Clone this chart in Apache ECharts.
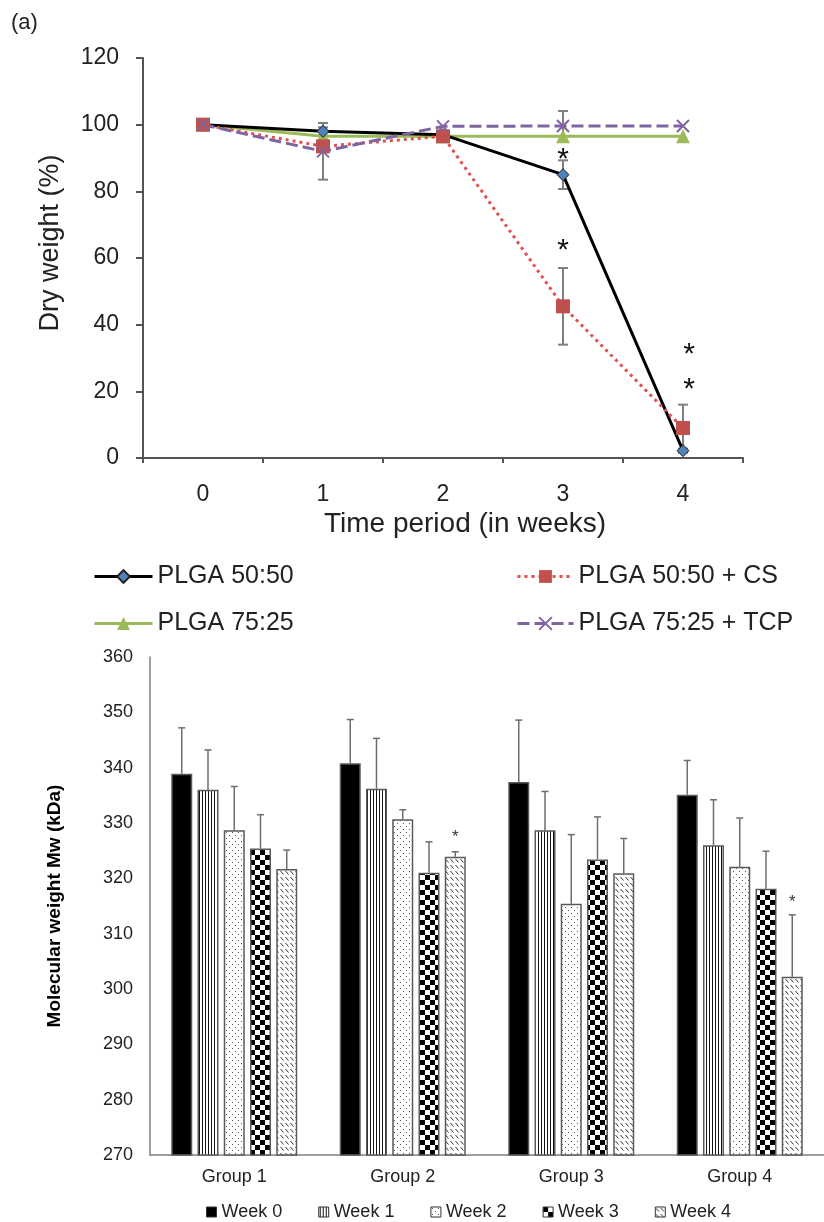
<!DOCTYPE html>
<html>
<head>
<meta charset="utf-8">
<script src="https://cdn.jsdelivr.net/npm/echarts@6/dist/echarts.min.js"></script>
<style>
html,body{margin:0;padding:0;background:#fff;}
#c{width:824px;height:1222px;}
</style>
</head>
<body>
<div id="c"></div>
<script>
// ---------- Data: panel (a) dry weight ----------
const weeks = ['0', '1', '2', '3', '4'];
const lineNames = ['PLGA 50:50', 'PLGA 50:50 + CS', 'PLGA 75:25', 'PLGA 75:25 + TCP'];
const plga5050 = [100, 98, 97, 85, 2.2];
const plga5050Err = [0, 1.2, 0.8, 4.3, 0.6];
const plga5050cs = [100, 93.5, 96.5, 45.5, 9];
const plga5050csErr = [0, 0, 0, 11.5, 7];
const plga7525 = [100, 96.5, 96.5, 96.5, 96.5];
const plga7525Err = [0, 0, 0, 0, 0];
const plga7525tcp = [100, 92, 99.5, 99.6, 99.6];
const plga7525tcpErr = [0, 8.5, 0, 4.5, 0];
const topStars = [[3, 91.9], [3, 64.5], [4, 33.4], [4, 22.9]];

// ---------- Data: molecular weight ----------
const groups = ['Group 1', 'Group 2', 'Group 3', 'Group 4'];
const weekNames = ['Week 0', 'Week 1', 'Week 2', 'Week 3', 'Week 4'];
const week0 = [338.9, 340.8, 337.4, 335.1];
const week0Err = [8.3, 7.9, 11.2, 6.2];
const week1 = [336.0, 336.2, 328.7, 326.0];
const week1Err = [7.2, 9.1, 7.0, 8.2];
const week2 = [328.7, 330.7, 315.4, 322.1];
const week2Err = [7.9, 1.7, 12.5, 8.8];
const week3 = [325.4, 321.0, 323.4, 318.1];
const week3Err = [6.1, 5.6, 7.7, 6.8];
const week4 = [321.7, 323.9, 320.9, 302.2];
const week4Err = [3.4, 0.9, 6.3, 11.2];
const bottomStars = [[1, 4, 328.2], [3, 4, 316.4]]; // [group, week, value]

// ---------- Styling helpers ----------
const FONT = "'Liberation Sans', Arial, sans-serif";

function makePattern(kind) {
  const c = document.createElement('canvas');
  let w = 4, h = 4;
  if (kind === 'vlines') { w = 3; h = 4; }
  if (kind === 'dots') { w = 6; h = 6; }
  if (kind === 'check') { w = 10; h = 10; }
  if (kind === 'diag') { w = 5; h = 6; }
  c.width = w; c.height = h;
  const ctx = c.getContext('2d');
  ctx.fillStyle = '#fff';
  ctx.fillRect(0, 0, w, h);
  if (kind === 'vlines') {
    ctx.fillStyle = '#111';
    ctx.fillRect(1, 0, 1, h);
  } else if (kind === 'dots') {
    ctx.fillStyle = '#555';
    ctx.fillRect(1, 1, 1, 1);
    ctx.fillRect(4, 4, 1, 1);
  } else if (kind === 'check') {
    ctx.fillStyle = '#000';
    ctx.fillRect(0, 0, 5, 5);
    ctx.fillRect(5, 5, 5, 5);
  } else if (kind === 'diag') {
    ctx.strokeStyle = '#333';
    ctx.lineWidth = 1;
    ctx.beginPath();
    ctx.moveTo(0.5, 1);
    ctx.lineTo(3.5, 4.5);
    ctx.stroke();
  }
  return { image: c, repeat: 'repeat' };
}

const weekFills = ['#000', makePattern('vlines'), makePattern('dots'), makePattern('check'), makePattern('diag')];
const weekVals = [week0, week1, week2, week3, week4];
const weekErrs = [week0Err, week1Err, week2Err, week3Err, week4Err];

const BAR_W = 21;
const BAR_STEP = 26.25;

// ---------- Series: top line chart ----------
const lineVals = [plga5050, plga5050cs, plga7525, plga7525tcp];
const lineErrs = [plga5050Err, plga5050csErr, plga7525Err, plga7525tcpErr];
const lineStyles = [
  { color: '#000', width: 3, type: 'solid' },
  { color: '#e0504d', width: 3, type: [3, 4] },
  { color: '#9bbb59', width: 3, type: 'solid' },
  { color: '#8064a2', width: 3, type: [12, 5] }
];
const symbols = [
  { symbol: 'diamond', size: 12, item: { color: '#4f81bd', borderColor: '#1f1f1f', borderWidth: 1 } },
  { symbol: 'rect', size: 14, item: { color: '#c0504d', borderColor: '#c0504d', borderWidth: 0 } },
  { symbol: 'triangle', size: 14, item: { color: '#9bbb59', borderColor: '#9bbb59', borderWidth: 0 } },
  { symbol: 'path://M0,0L10,10M10,0L0,10', size: 12, item: { color: 'rgba(0,0,0,0)', borderColor: '#8064a2', borderWidth: 2 } }
];

const series = [];

// error bars (top)
lineErrs.forEach((errs, si) => {
  series.push({
    type: 'custom', xAxisIndex: 0, yAxisIndex: 0, z: 1, silent: true,
    data: lineVals[si].map((v, i) => [i, v, errs[i]]).filter(d => d[2] > 0),
    renderItem: function (params, api) {
      const x = api.value(0), v = api.value(1), e = api.value(2);
      const hi = api.coord([x, v + e]);
      const lo = api.coord([x, v - e]);
      const st = { stroke: '#7f7f7f', lineWidth: 2 };
      return {
        type: 'group', children: [
          { type: 'line', shape: { x1: hi[0], y1: hi[1], x2: lo[0], y2: lo[1] }, style: st },
          { type: 'line', shape: { x1: hi[0] - 5, y1: hi[1], x2: hi[0] + 5, y2: hi[1] }, style: st },
          { type: 'line', shape: { x1: lo[0] - 5, y1: lo[1], x2: lo[0] + 5, y2: lo[1] }, style: st }
        ]
      };
    }
  });
});

// lines — draw order: green, black, red, purple
[2, 0, 1, 3].forEach(si => {
  series.push({
    name: lineNames[si], type: 'line', xAxisIndex: 0, yAxisIndex: 0, z: 3,
    data: lineVals[si],
    symbol: symbols[si].symbol, symbolSize: symbols[si].size,
    showAllSymbol: true,
    lineStyle: lineStyles[si],
    itemStyle: symbols[si].item
  });
});

// stars (top)
series.push({
  type: 'custom', xAxisIndex: 0, yAxisIndex: 0, z: 5, silent: true,
  data: topStars,
  renderItem: function (params, api) {
    const p = api.coord([api.value(0), api.value(1)]);
    const dx = api.value(0) === 4 ? 6 : 0;
    return {
      type: 'text',
      style: { text: '*', x: p[0] + dx, y: p[1] + 8, font: '30px ' + FONT, fill: '#111', textAlign: 'center', textVerticalAlign: 'middle' }
    };
  }
});

// bars (bottom)
weekVals.forEach((vals, k) => {
  series.push({
    name: weekNames[k], type: 'bar', xAxisIndex: 1, yAxisIndex: 1, z: 2,
    data: vals, barWidth: BAR_W, barGap: '25%',
    itemStyle: { color: weekFills[k], borderColor: '#5a5a5a', borderWidth: 1.5 }
  });
});

// error bars (bottom, upper only)
weekErrs.forEach((errs, k) => {
  series.push({
    type: 'custom', xAxisIndex: 1, yAxisIndex: 1, z: 1, silent: true,
    data: weekVals[k].map((v, i) => [i, v, errs[i]]),
    renderItem: function (params, api) {
      const x = api.value(0), v = api.value(1), e = api.value(2);
      const off = (k - 2) * BAR_STEP;
      const base = api.coord([x, v]);
      const hi = api.coord([x, v + e]);
      const st = { stroke: '#6e6e6e', lineWidth: 1.5 };
      return {
        type: 'group', children: [
          { type: 'line', shape: { x1: base[0] + off, y1: base[1], x2: hi[0] + off, y2: hi[1] }, style: st },
          { type: 'line', shape: { x1: hi[0] + off - 3.5, y1: hi[1], x2: hi[0] + off + 3.5, y2: hi[1] }, style: st }
        ]
      };
    }
  });
});

// stars (bottom)
series.push({
  type: 'custom', xAxisIndex: 1, yAxisIndex: 1, z: 5, silent: true,
  data: bottomStars,
  renderItem: function (params, api) {
    const g = api.value(0), k = api.value(1), v = api.value(2);
    const p = api.coord([g, v]);
    return {
      type: 'text',
      style: { text: '*', x: p[0] + (k - 2) * BAR_STEP, y: p[1] + 4, font: '17px ' + FONT, fill: '#333', textAlign: 'center', textVerticalAlign: 'middle' }
    };
  }
});

const option = {
  animation: false,
  backgroundColor: '#fff',
  textStyle: { fontFamily: FONT },
  graphic: [
    { type: 'text', left: 11, top: 12, style: { text: '(a)', font: '22px ' + FONT, fill: '#222' } },
    { type: 'text', x: 51, y: 243, rotation: Math.PI / 2, style: { text: 'Dry weight (%)', font: '27px ' + FONT, fill: '#222', textAlign: 'center', textVerticalAlign: 'middle' } },
    { type: 'text', x: 465, y: 524, style: { text: 'Time period (in weeks)', font: '28px ' + FONT, fill: '#222', textAlign: 'center', textVerticalAlign: 'middle' } }
  ],
  grid: [
    { left: 143, top: 58, width: 600, height: 400 },
    { left: 150, top: 657, width: 682, height: 498 }
  ],
  xAxis: [
    {
      gridIndex: 0, type: 'category', data: weeks, boundaryGap: true,
      axisLine: { lineStyle: { color: '#555', width: 2 } },
      axisTick: { show: true, length: 5, lineStyle: { color: '#555', width: 2 } },
      axisLabel: { color: '#222', fontSize: 23, margin: 25, fontFamily: FONT }
    },
    {
      gridIndex: 1, type: 'category', data: groups,
      axisLine: { lineStyle: { color: '#808080', width: 1.5 } },
      axisTick: { show: false },
      axisLabel: { color: '#222', fontSize: 18, margin: 13, fontFamily: FONT }
    }
  ],
  yAxis: [
    {
      gridIndex: 0, type: 'value', min: 0, max: 120, interval: 20,
      splitLine: { show: false },
      axisLine: { show: true, lineStyle: { color: '#555', width: 2 } },
      axisTick: { show: true, length: 7, lineStyle: { color: '#555', width: 2 } },
      axisLabel: { color: '#222', fontSize: 23, margin: 24, fontFamily: FONT }
    },
    {
      gridIndex: 1, type: 'value', min: 270, max: 360, interval: 10,
      splitLine: { show: false },
      axisLine: { show: true, lineStyle: { color: '#808080', width: 1.5 } },
      axisTick: { show: false },
      axisLabel: { color: '#222', fontSize: 18, margin: 17, fontFamily: FONT },
      name: 'Molecular weight Mw (kDa)', nameLocation: 'middle', nameGap: 86, nameRotate: 90,
      nameTextStyle: { color: '#000', fontSize: 19, fontWeight: 'bold', fontFamily: FONT }
    }
  ],
  legend: [
    {
      data: ['PLGA 50:50', 'PLGA 75:25'], orient: 'vertical', left: 93, top: 564, padding: 0,
      itemWidth: 58, itemHeight: 16, itemGap: 22, selectedMode: false,
      lineStyle: { width: 3 },
      textStyle: { fontSize: 25, color: '#222', fontFamily: FONT }
    },
    {
      data: ['PLGA 50:50 + CS', 'PLGA 75:25 + TCP'], orient: 'vertical', left: 516, top: 564, padding: 0,
      itemWidth: 56, itemHeight: 16, itemGap: 22, selectedMode: false,
      lineStyle: { width: 3 },
      textStyle: { fontSize: 25, color: '#222', fontFamily: FONT }
    },
    {
      data: weekNames, orient: 'horizontal', left: 206, top: 1203, padding: 0,
      icon: 'rect', itemWidth: 10, itemHeight: 10, itemGap: 36, selectedMode: false,
      itemStyle: { borderColor: '#333', borderWidth: 1 },
      textStyle: { fontSize: 18, color: '#222', fontFamily: FONT }
    }
  ],
  series: series
};

const chart = echarts.init(document.getElementById('c'), null, { renderer: 'canvas' });
chart.setOption(option);
</script>
</body>
</html>
